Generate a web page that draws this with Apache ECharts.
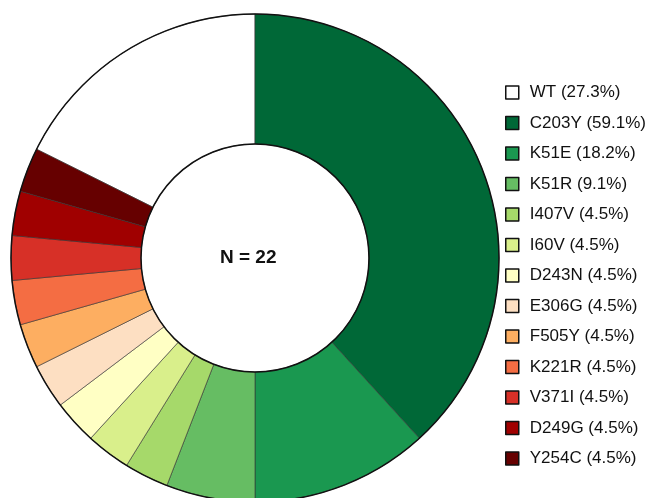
<!DOCTYPE html>
<html>
<head>
<meta charset="utf-8">
<title>Variant donut</title>
<script src="https://cdn.jsdelivr.net/npm/echarts@6/dist/echarts.min.js"></script>
<style>
    body, html { margin: 0; padding: 0; background: #fff; }
    #main { width: 651px; height: 498px; }
</style>
</head>
<body>
<div id="main"></div>
<script>
    // sample counts per variant (one patient can carry several)
    var variants = ['WT', 'C203Y', 'K51E', 'K51R', 'I407V', 'I60V', 'D243N',
                    'E306G', 'F505Y', 'K221R', 'V371I', 'D249G', 'Y254C'];
    var counts = [6, 13, 4, 2, 1, 1, 1, 1, 1, 1, 1, 1, 1];
    var colors = ['#ffffff', '#006837', '#1a9850', '#66bd63', '#a6d96a', '#d9ef8b', '#ffffc4',
                  '#fddfc2', '#fdae61', '#f46d43', '#d73027', '#a00000', '#660000'];
    var N = 22;

    var total = counts.reduce(function (a, b) { return a + b; }, 0);
    var names = variants.map(function (v, i) {
        return v + ' (' + (counts[i] / N * 100).toFixed(1) + '%)';
    });
    var pieData = names.map(function (n, i) {
        return { name: n, value: counts[i], itemStyle: { color: colors[i] } };
    });

    var chart = echarts.init(document.getElementById('main'));
    var option = {
        backgroundColor: '#fff',
        animation: false,
        title: {
            text: 'N = ' + N,
            left: 220,
            top: 248,
            padding: 0,
            textStyle: {
                fontFamily: 'Liberation Sans, Arial, sans-serif',
                fontWeight: 'bold',
                fontSize: 19,
                lineHeight: 20,
                color: '#111'
            }
        },
        legend: {
            orient: 'vertical',
            left: 505,
            top: 84,
            padding: 0,
            data: names,
            selectedMode: false,
            icon: 'rect',
            itemWidth: 13,
            itemHeight: 13,
            itemGap: 13.5,
            itemStyle: { borderColor: '#111', borderWidth: 1.5 },
            textStyle: {
                fontFamily: 'Liberation Sans, Arial, sans-serif',
                fontSize: 17,
                lineHeight: 16,
                color: '#111',
                padding: [0, 0, 0, 6]
            }
        },
        series: [{
            type: 'pie',
            center: [255, 258],
            radius: [114, 244],
            startAngle: 90 + 360 * counts[0] / total,
            clockwise: true,
            silent: true,
            label: { show: false },
            labelLine: { show: false },
            itemStyle: { borderColor: '#333', borderWidth: 0.6 },
            emphasis: { disabled: true },
            data: pieData
        }, {
            // black ring outline
            type: 'pie',
            center: [255, 258],
            radius: [114, 244],
            startAngle: 90,
            silent: true,
            label: { show: false },
            labelLine: { show: false },
            itemStyle: { color: 'rgba(0,0,0,0)', borderColor: '#111', borderWidth: 1.5 },
            emphasis: { disabled: true },
            data: [{ name: 'ring', value: 1 }]
        }]
    };
    chart.setOption(option);
</script>
</body>
</html>
